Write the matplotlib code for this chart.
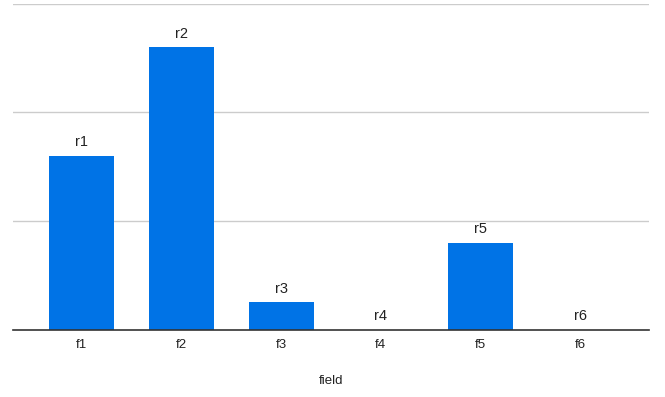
import matplotlib
matplotlib.use("Agg")
import matplotlib.pyplot as plt

categories = ["f1", "f2", "f3", "f4", "f5", "f6"]
values = [16, 26, 2.5, 0, 8, 0]
bar_labels = ["r1", "r2", "r3", "r4", "r5", "r6"]

plt.rcParams["font.family"] = ["Liberation Sans", "DejaVu Sans"]

fig = plt.figure(figsize=(6.65, 3.97), dpi=100)
ax = fig.add_axes([13 / 665, 67.5 / 397, 636 / 665, 326 / 397])

x = list(range(len(categories)))
bars = ax.bar(x, values, width=0.65, color="#0073e6", zorder=3)

for rect, lab in zip(bars, bar_labels):
    ax.annotate(lab, (rect.get_x() + rect.get_width() / 2, rect.get_height()),
                xytext=(0, 4.5), textcoords="offset points",
                ha="center", va="bottom", fontsize=10.5, color="#222222")

ax.set_xlim(-0.69, 5.69)
ax.set_ylim(0, 30)
ax.set_yticks([10, 20, 30])
ax.yaxis.grid(True, color="#cccccc", linewidth=1)
ax.tick_params(axis="y", left=False, labelleft=False)
ax.set_xticks(x)
ax.set_xticklabels(categories, fontsize=9.5, color="#222222")
ax.tick_params(axis="x", length=0, pad=7)
ax.set_xlabel("field", fontsize=9.5, color="#222222", labelpad=17)

for side in ("top", "right", "left"):
    ax.spines[side].set_visible(False)
ax.spines["bottom"].set_color("#333333")
ax.spines["bottom"].set_linewidth(1.2)
ax.spines["bottom"].set_zorder(4)

fig.savefig("out.png", dpi=100)
